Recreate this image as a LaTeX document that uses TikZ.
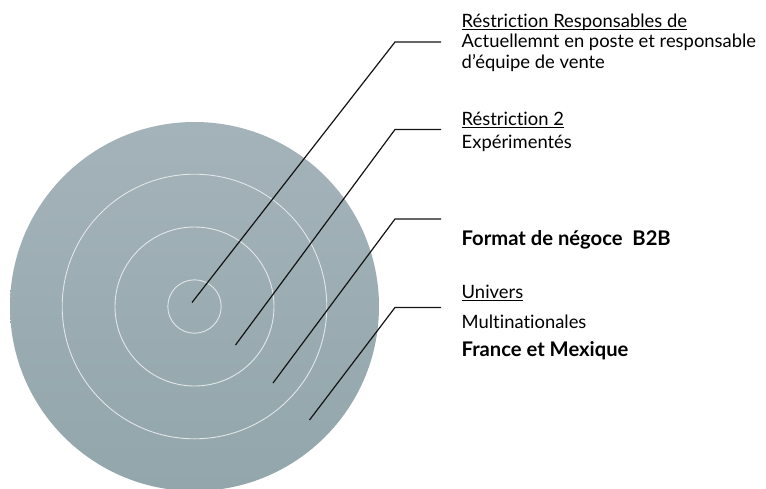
\documentclass[tikz,border=0pt]{standalone}
\usepackage{fontspec}
\setmainfont[Ligatures=NoCommon]{Lato}
\newcommand\myul[1]{\setbox0\hbox{#1}\rlap{\rule[-2.6pt]{\wd0}{0.9pt}}\box0}
\definecolor{disctop}{RGB}{164,179,185}
\definecolor{discbot}{RGB}{146,166,172}
\definecolor{ringcol}{RGB}{225,230,232}
\definecolor{leadcol}{RGB}{20,20,20}
\begin{document}
\begin{tikzpicture}[x=1pt,y=-1pt,
  ring/.style={draw=ringcol,line width=0.9pt},
  leader/.style={draw=leadcol,line width=1.2pt},
  lbl/.style={anchor=base west,inner sep=0pt,font=\fontsize{18.4}{22}\selectfont},
  lblb/.style={lbl,font=\fontsize{20.2}{24}\selectfont\bfseries}]
\useasboundingbox (0,0) rectangle (766,488);
\coordinate (c) at (194.5,306.5);
\shade[top color=disctop,bottom color=discbot] (c) circle[radius=184.5];
\node[ring,circle,minimum size=264.6pt,inner sep=0pt] (r3) at (c) {};
\node[ring,circle,minimum size=159pt,inner sep=0pt] (r2) at (c) {};
\node[ring,circle,minimum size=53.4pt,inner sep=0pt] (r1) at (c) {};
% leaders
\coordinate (p1) at (192,302.5);
\coordinate (e1) at (395,42);
\coordinate (h1) at (441,42);
\coordinate (p2) at (235.5,345);
\coordinate (e2) at (395,129.5);
\coordinate (h2) at (441,129.5);
\coordinate (p3) at (273,383);
\coordinate (e3) at (395,219);
\coordinate (h3) at (441,219);
\coordinate (p4) at (309.5,420);
\coordinate (e4) at (395,307.5);
\coordinate (h4) at (441,307.5);
\draw[leader] (p1) -- (e1) -- (h1);
\draw[leader] (p2) -- (e2) -- (h2);
\draw[leader] (p3) -- (e3) -- (h3);
\draw[leader] (p4) -- (e4) -- (h4);
% labels
\node[lbl] (t1) at (461.5,27.3) {\myul{Réstriction Responsables de}};
\node[lbl] (t1a) at (461.5,47) {Actuellemnt en poste et responsable};
\node[lbl] (t1b) at (461.5,68.5) {d’équipe de vente};
\node[lbl] (t2) at (461.5,125) {\myul{Réstriction 2}};
\node[lbl] (t2a) at (461.5,148.7) {Expérimentés};
\node[lblb] (t3) at (461.5,245) {Format de négoce~~B2B};
\node[lbl] (t4) at (461.5,298.3) {\myul{Univers}};
\node[lbl] (t4a) at (461.5,328.3) {Multinationales};
\node[lblb] (t4b) at (461.5,356.7) {France et Mexique};
\end{tikzpicture}
\end{document}
